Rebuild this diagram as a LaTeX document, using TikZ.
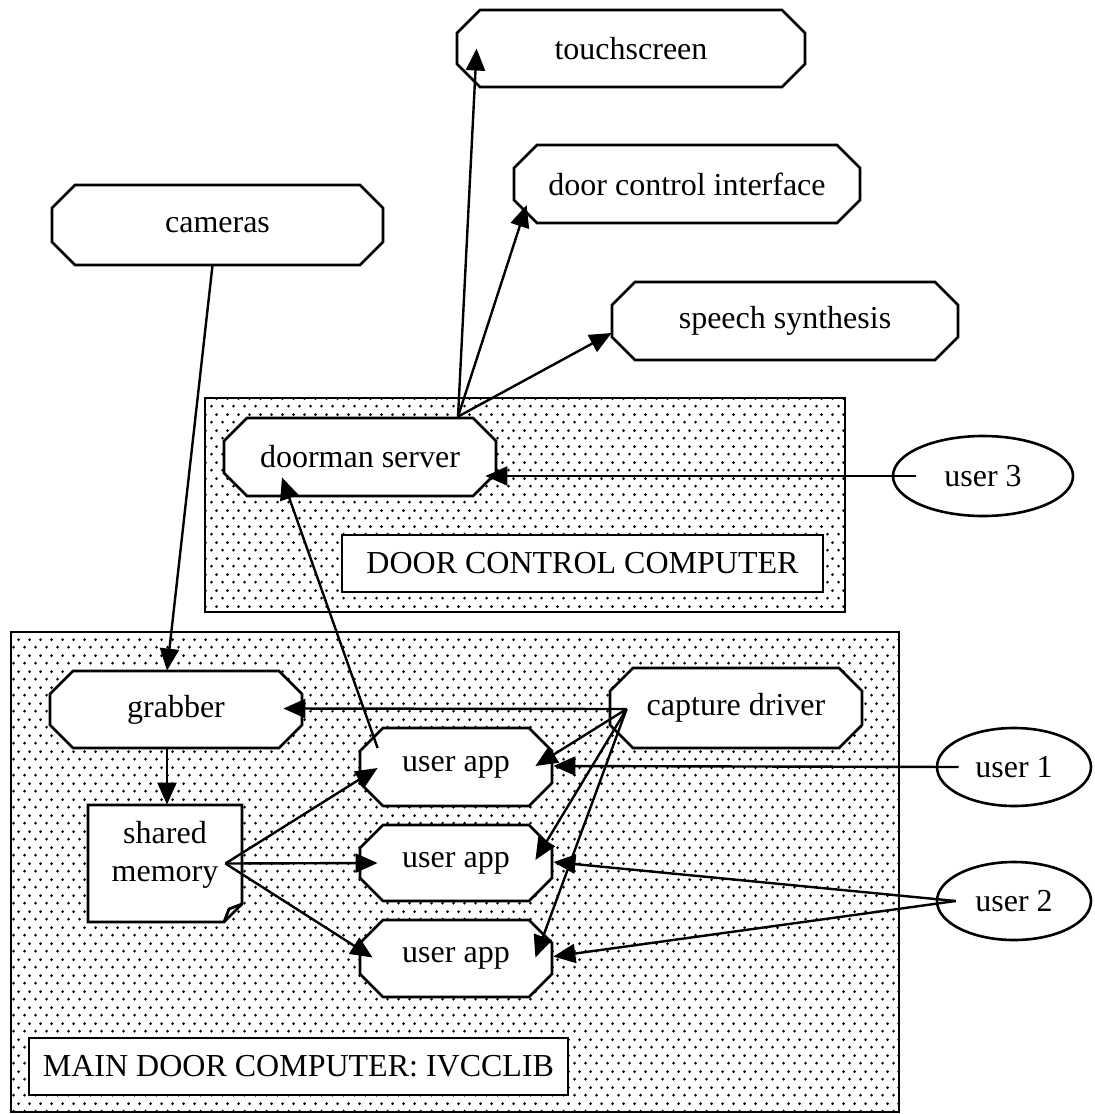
\documentclass[tikz,border=0pt]{standalone}
\usepackage{fontspec}
\setmainfont{Liberation Serif}
\usetikzlibrary{patterns,shapes.geometric,arrows.meta,calc}

% stippled fill used for the two computer enclosures
\pgfdeclarepatternformonly{stipple}{\pgfqpoint{0pt}{0pt}}{\pgfqpoint{5.5pt}{8pt}}{\pgfqpoint{5.5pt}{8pt}}{%
  \pgfpathcircle{\pgfqpoint{1.375pt}{2pt}}{0.8pt}%
  \pgfpathcircle{\pgfqpoint{4.125pt}{6pt}}{0.8pt}%
  \pgfusepath{fill}}

% rectangular node spanning a box given in drawing units: name, x1, y1, x2, y2, style, text
\newcommand{\boxnode}[7]{%
  \pgfmathsetmacro\bxw{(#4-#2)*0.5}%
  \pgfmathsetmacro\bxh{(#5-#3)*0.5}%
  \node[rectangle, inner sep=0pt, minimum width=\bxw pt, minimum height=\bxh pt, #6]
    (#1) at ({(#2+#4)/2},{(#3+#5)/2}) {#7};
}

% octagonal process box: name, x1, y1, x2, y2, text
\newcommand{\octbox}[6]{%
  \filldraw[octline] ({#2+23},#3) -- ({#4-23},#3) -- (#4,{#3+23}) -- (#4,{#5-23})
    -- ({#4-23},#5) -- ({#2+23},#5) -- (#2,{#5-23}) -- (#2,{#3+23}) -- cycle;
  \boxnode{#1}{#2}{#3}{#4}{#5}{}{#6}
}

\begin{document}
\begin{tikzpicture}[x=0.5pt,y=-0.5pt,
  font=\fontsize{16}{19}\selectfont,
  octline/.style={draw=black, fill=white, line width=1.4pt, line join=miter},
  enclosure/.style={draw=black, pattern=stipple, line width=1.3pt},
  tag/.style={draw=black, fill=white, line width=1.3pt},
  actor/.style={ellipse, draw=black, fill=white, line width=1.3pt, inner sep=0pt},
  arr/.style={-{Triangle[length=11pt,width=9.5pt]}, line width=1.2pt}]

\useasboundingbox (0,0) rectangle (1094,1114);

% enclosures
\boxnode{dccbox}{205}{398}{845}{612}{enclosure}{}
\boxnode{mdcbox}{11}{632}{899}{1112}{enclosure}{}

% external devices
\octbox{touch}{457}{10}{805}{87}{touchscreen}
\octbox{dci}{514}{145}{860}{223}{door control interface}
\octbox{cam}{52}{185}{383}{265}{cameras}
\octbox{speech}{612}{282}{958}{360}{speech synthesis}

% door control computer
\octbox{dm}{224}{418}{496}{496}{doorman server}
\boxnode{dcclabel}{342}{535}{823}{592}{tag}{DOOR CONTROL COMPUTER}

% main door computer
\octbox{grab}{50}{671}{302}{748}{grabber}
\octbox{cap}{610}{668}{862}{748}{capture driver}
\octbox{app1}{360}{728}{552}{806}{user app}
\octbox{app2}{360}{825}{552}{901}{user app}
\octbox{app3}{360}{920}{552}{997}{user app}

% shared memory note with folded corner
\filldraw[octline] (88,805) -- (242,805) -- (242,904) -- (224,922) -- (88,922) -- cycle;
\draw[line width=1.4pt, line join=miter] (224,922) -- (229,909) -- (242,904);
\boxnode{shm}{88}{805}{242}{922}{}{}
\node[align=center, inner sep=0pt] (shmtext) at (165,855) {shared\\memory};

\boxnode{mdclabel}{29}{1038}{568}{1095}{tag}{MAIN DOOR COMPUTER: IVCCLIB}

% users
\node[actor, minimum width=90pt, minimum height=40pt] (u3) at (983,476) {user 3};
\node[actor, minimum width=77pt, minimum height=39pt] (u1) at (1014,767) {user 1};
\node[actor, minimum width=77pt, minimum height=39pt] (u2) at (1014,901) {user 2};

% video path
\draw[arr] ($(cam.south)+(-5,0)$) -- ($(grab.north)+(-9,0)$);
\draw[arr] ($(grab.south)+(-9,0)$) -- ($(shm.north)+(2,0)$);
\draw[arr] ($(cap.west)+(17,1)$) -- ($(grab.east)+(-19,-1)$);

% capture driver to applications
\draw[arr] ($(cap.west)+(17,1)$) -- ($(app1.east)+(-17,-1)$);
\draw[arr] ($(cap.west)+(17,1)$) -- ($(app2.east)+(-17,-3)$);
\draw[arr] ($(cap.west)+(17,1)$) -- ($(app3.east)+(-17,-1)$);

% shared memory to applications
\draw[arr] ($(shm.east)+(-17,0)$) -- ($(app1.west)+(18,1)$);
\draw[arr] ($(shm.east)+(-17,0)$) -- ($(app2.west)+(18,0)$);
\draw[arr] ($(shm.east)+(-17,0)$) -- ($(app3.west)+(13,-1)$);

% users to applications
\draw[arr] ($(u1.west)+(23,0)$) -- ($(app1.east)+(1,-1)$);
\draw[arr] ($(u2.west)+(20,0)$) -- ($(app2.east)+(1,-1)$);
\draw[arr] ($(u2.west)+(20,0)$) -- ($(app3.east)+(1,-2)$);

% doorman server links
\draw[arr] ($(app1.west)+(18,-19)$) -- ($(dm.south)+(-78,-19)$);
\draw[arr] ($(u3.west)+(24,0)$) -- ($(dm.east)+(-11,19)$);
\draw[arr] ($(dm.north)+(98,-1)$) -- ($(touch.west)+(20,0)$);
\draw[arr] ($(dm.north)+(98,-1)$) -- ($(dci.west)+(13,21)$);
\draw[arr] ($(dm.north)+(98,-1)$) -- ($(speech.west)+(0,12)$);

\end{tikzpicture}
\end{document}
